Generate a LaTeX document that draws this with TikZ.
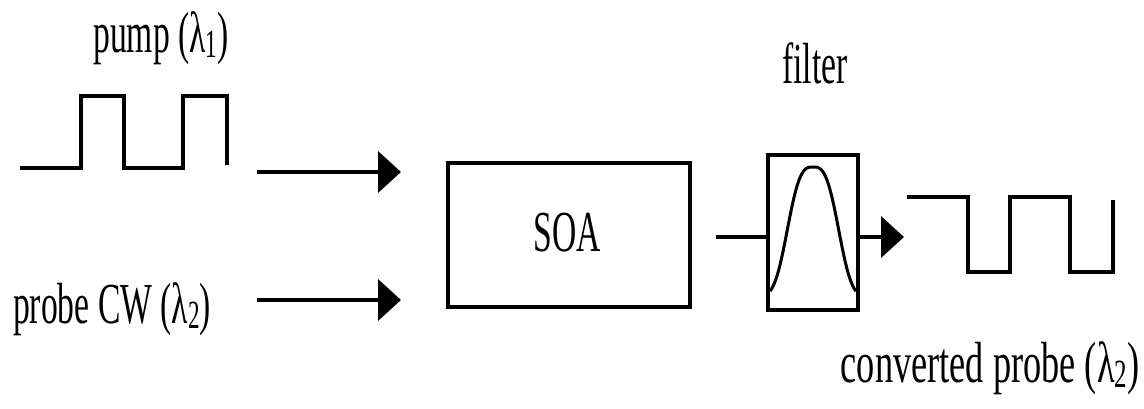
\documentclass[tikz,border=0pt]{standalone}
\usepackage{fontspec}
\setmainfont{Liberation Serif}
\usetikzlibrary{arrows.meta}
\newcommand{\lowsub}[1]{\raisebox{-0.1em}{\fontsize{40}{40}\selectfont #1}}
\tikzset{
  lbl/.style={font=\fontsize{58}{60}\selectfont, inner sep=0pt, anchor=base, xscale=0.58},
  wave/.style={line width=4pt, line join=miter},
  boxstyle/.style={draw, line width=4pt, inner sep=0pt},
  arr/.style={line width=4pt, -{Triangle[length=23pt,width=41pt]}},
}
\begin{document}
\begin{tikzpicture}[x=1pt,y=-1pt]
\useasboundingbox (0,0) rectangle (1144,408);
% labels
\node[lbl] (pump) at (161,52) {pump (λ\lowsub{1})};
\node[lbl] (probe) at (112,323) {probe CW (λ\lowsub{2})};
\node[lbl] (filtlbl) at (815,83) {filter};
\node[lbl, xscale=1.08] (conv) at (990,382) {converted probe (λ\lowsub{2})};
% SOA
\node[boxstyle, minimum width=242pt, minimum height=144pt] (soa) at (569,235) {};
\node[lbl] (soatxt) at (567,251) {SOA};
% filter
\node[boxstyle, minimum width=90pt, minimum height=155pt] (filt) at (813,232.5) {};
\draw[line width=3pt, smooth] plot[domain=770:856, samples=80]
  (\x, {297 - 130*exp(-abs((\x-813)/29.5)*((\x-813)/29.5)*((\x-813)/29.5))});
% pump waveform
\draw[wave] (20,168) -- (81,168) -- (81,96) -- (124,96) -- (124,168) -- (183,168) -- (183,96) -- (227,96) -- (227,165);
% output waveform
\draw[wave] (907,197) -- (968,197) -- (968,272) -- (1010,272) -- (1010,197) -- (1070,197) -- (1070,272) -- (1113,272) -- (1113,200);
% arrows
\coordinate (a1s) at (257,172);
\coordinate (a1e) at (401,172);
\coordinate (a2s) at (257,300);
\coordinate (a2e) at (401,300);
\coordinate (fin) at (716,237);
\coordinate (fout) at (904,237);
\draw[arr] (a1s) -- (a1e);
\draw[arr] (a2s) -- (a2e);
\draw[line width=4pt] (fin) -- (filt.west |- fin);
\draw[arr] (filt.east |- fout) -- (fout);
\end{tikzpicture}
\end{document}
